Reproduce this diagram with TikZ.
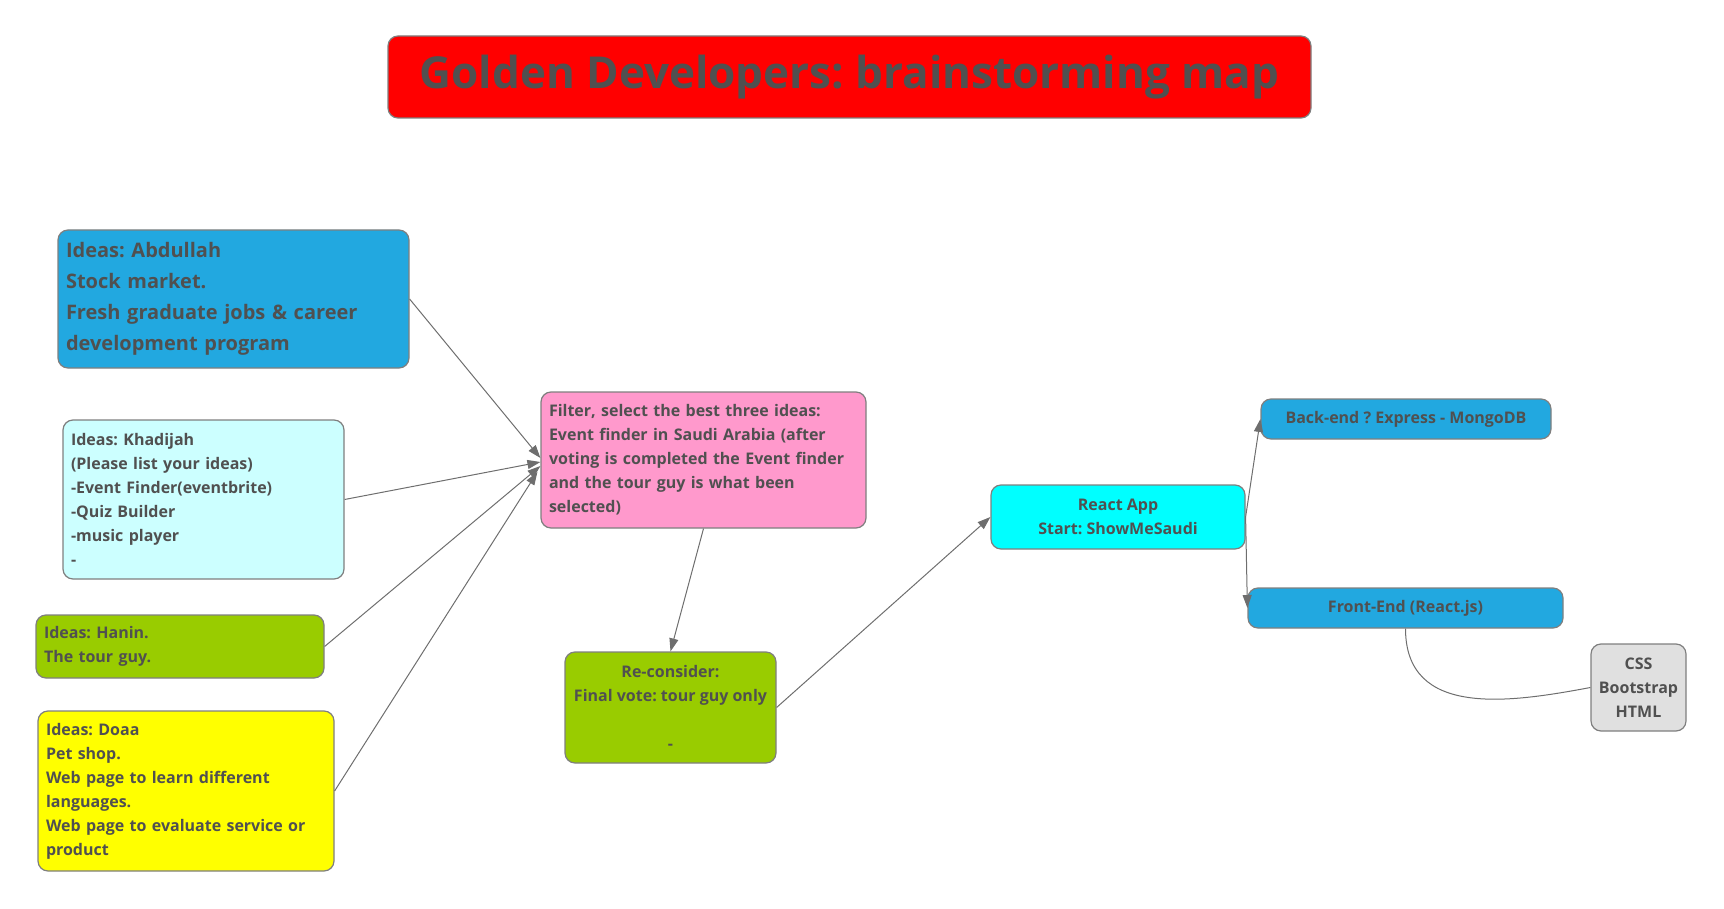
\documentclass[tikz,border=0pt]{standalone}
\usepackage{fontspec}
\setmainfont{Open Sans}
\newfontfamily\titlefont{Open Sans}
\usetikzlibrary{arrows.meta,calc}
\definecolor{bordergray}{HTML}{7F7F7F}
\definecolor{txt}{HTML}{505050}
\definecolor{linegray}{HTML}{6E6E6E}
\definecolor{ideablue}{HTML}{22A8E0}
\definecolor{lightcyan}{HTML}{CCFFFF}
\definecolor{leafgreen}{HTML}{99CC00}
\definecolor{brightyellow}{HTML}{FFFF00}
\definecolor{pinkbox}{HTML}{FF99CC}
\definecolor{aquabox}{HTML}{00FFFF}
\definecolor{graybox}{HTML}{E0E0E0}
\begin{document}
\frenchspacing
\begin{tikzpicture}[x=1pt,y=-1pt,
  box/.style={draw=bordergray, line width=1.2pt, rounded corners=10pt, text=txt,
    font=\bfseries\fontsize{16}{24}\selectfont, inner sep=8pt},
  leftbox/.style={box, align=left},
  midbox/.style={box, align=center},
  conn/.style={draw=linegray, line width=1pt},
  arr/.style={conn, -{Triangle[length=13pt,width=9pt]}}
]
\useasboundingbox (0,0) rectangle (1724,909);

\node[box, fill=red, minimum width=923pt, minimum height=82pt, inner sep=0pt,
  font=\titlefont\bfseries\fontsize{44}{50}\selectfont] (title) at (849.5,77)
  {Golden Developers: brainstorming map};

\node[leftbox, fill=ideablue, minimum width=351pt, minimum height=138pt,
  text width=335pt, font=\bfseries\fontsize{20}{31}\selectfont] (abd) at (233.5,299)
  {Ideas: Abdullah\\Stock market.\\Fresh graduate jobs \& career\\development program};

\node[leftbox, fill=lightcyan, minimum width=281pt, minimum height=159pt,
  text width=265pt] (kha) at (203.5,499.5)
  {Ideas: Khadijah\\(Please list your ideas)\\-Event Finder(eventbrite)\\-Quiz Builder\\-music player\\-};

\node[leftbox, fill=leafgreen, minimum width=288pt, minimum height=63pt,
  text width=272pt] (han) at (180,646.5)
  {Ideas: Hanin.\\The tour guy.};

\node[leftbox, fill=brightyellow, minimum width=296pt, minimum height=160pt,
  text width=280pt] (doa) at (186,791)
  {Ideas: Doaa\\Pet shop.\\Web page to learn different\\languages.\\Web page to evaluate service or\\product};

\node[leftbox, fill=pinkbox, minimum width=325pt, minimum height=136pt,
  text width=309pt] (filter) at (703.5,460)
  {Filter, select the best three ideas:\\Event finder in Saudi Arabia (after\\voting is completed the Event finder\\and the tour guy is what been\\selected)};

\node[midbox, fill=leafgreen, minimum width=211pt, minimum height=111pt] (recon) at (670.5,707.5)
  {Re-consider:\\Final vote: tour guy only\\[24pt]-};

\node[midbox, fill=aquabox, minimum width=254pt, minimum height=64pt] (react) at (1118,517)
  {React App\\Start: ShowMeSaudi};

\node[midbox, fill=ideablue, minimum width=290pt, minimum height=40pt] (back) at (1406,419)
  {Back-end ? Express - MongoDB};

\node[midbox, fill=ideablue, minimum width=315pt, minimum height=40pt] (front) at (1405.5,608)
  {Front-End (React.js)};

\node[midbox, fill=graybox, minimum width=95pt, minimum height=87pt, inner sep=4pt] (css) at (1638.5,687.5)
  {CSS\\Bootstrap\\HTML};

\draw[arr] (abd.east) -- ($(filter.west)+(0,-2)$);
\draw[arr] (kha.east) -- ($(filter.west)+(0,2)$);
\draw[arr] (han.east) -- ($(filter.west)+(0,6)$);
\draw[arr] (doa.east) -- ($(filter.west)+(-3,12)$);
\draw[arr] (filter.south) -- (recon.north);
\draw[arr] (recon.east) -- (react.west);
\draw[arr] (react.east) -- (back.west);
\draw[arr] (react.east) -- (front.west);
\draw[conn] (front.south) .. controls +(0,90) and +(-80,15) .. (css.west);
\end{tikzpicture}
\end{document}
